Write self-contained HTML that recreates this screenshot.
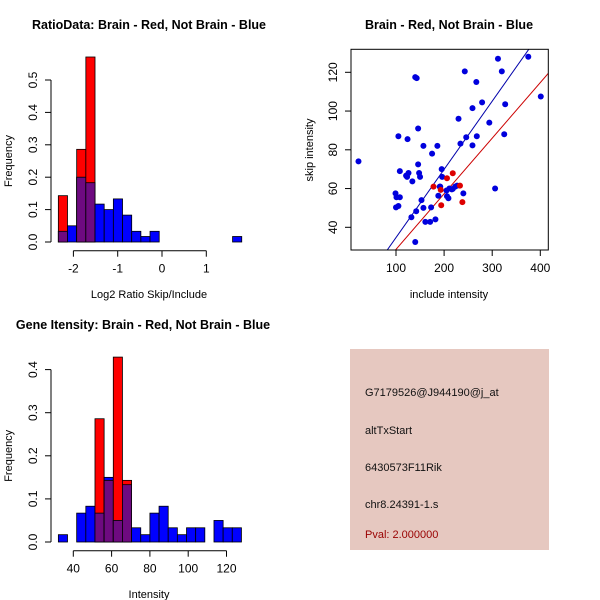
<!DOCTYPE html>
<html><head><meta charset="utf-8"><style>
html,body{margin:0;padding:0;background:#fff;}
svg{display:block;font-family:"Liberation Sans",sans-serif;}
</style></head><body>
<svg id="c" width="600" height="600" viewBox="0 0 600 600">
<rect x="350" y="349" width="199" height="201" fill="#e6c8c0"/>
<text x="365" y="396" font-size="11" fill="#111">G7179526@J944190@j_at</text>
<text x="365" y="434" font-size="11" fill="#111">altTxStart</text>
<text x="365" y="471" font-size="11" fill="#111">6430573F11Rik</text>
<text x="365" y="508" font-size="11" fill="#111">chr8.24391-1.s</text>
<text x="365" y="538" font-size="11" fill="#990000">Pval: 2.000000</text>
</svg>
<script>
// ---- Ratio histogram data ----
const ratioBreakStart = -2.34, ratioBinWidth = 0.207;
const ratioBlue = [0.033,0.05,0.2,0.183,0.117,0.1,0.133,0.083,0.033,0.017,0.033,0,0,0,0,0,0,0,0,0.017];
const ratioRed  = [0.143,0,0.286,0.571,0,0,0,0,0,0,0,0,0,0,0,0,0,0,0,0];
const ratioXTicks = [-2,-1,0,1];
const ratioYTicks = [0,0.1,0.2,0.3,0.4,0.5];
// ---- Intensity histogram data ----
const intBreakStart = 32.2, intBinWidth = 4.78;
const intBlue = [0.017,0,0.067,0.083,0.067,0.15,0.05,0.133,0.033,0.017,0.067,0.083,0.033,0.017,0.033,0.033,0,0.05,0.033,0.033];
const intRed  = [0,0,0,0,0.286,0.143,0.429,0.143,0,0,0,0,0,0,0,0,0,0,0,0];
const intXTicks = [40,60,80,100,120];
const intYTicks = [0,0.1,0.2,0.3,0.4];
// ---- Scatter data ----
const blueX = [22,140,143,243,267,312,320,375,230,279,259,327,294,401,325,146,105,124,157,186,175,246,268,259,234,195,146,108,148,150,126,123,121,134,196,188,192,99,101,108,100,105,153,157,173,142,132,161,171,182,140,205,206,209,211,218,223,227,216,240,306,191];
const blueY = [74,117.5,117,120.5,115,127,120.5,128,96,104.5,101.5,103.5,94,107.5,88,91,87,85.5,82,82,78,86.5,87,82.3,83.2,70,72.5,69,68,66,68,66,66.7,63.7,66,56.3,61,57.5,55.5,55.5,50.3,51,54,50,50.3,48.3,45.2,42.8,42.8,44.1,32.4,59,56,55,60,59.8,61,61.5,59.6,57.5,60,61];
const redX = [178,193,194,206,218,233,238];
const redY = [61,59.3,51.4,65.3,67.9,61.5,53];
const blueFit = [-0.5,0.352];
const redFit = [-0.1,0.287];
const scXTicks = [100,200,300,400];
const scYTicks = [40,60,80,100,120];

const svg = document.getElementById('c');
const NS = 'http://www.w3.org/2000/svg';
function mk(tag, attrs, parent){const e=document.createElementNS(NS,tag);for(const k in attrs)e.setAttribute(k,attrs[k]);(parent||svg).appendChild(e);return e;}
function txt(x,y,s,attrs){const t=mk('text',Object.assign({x:x,y:y},attrs||{}));t.textContent=s;return t;}

function hist(o){
  const g=mk('g',{});
  
  
  const X=v=>o.x0+(v-o.xv0)*o.xs, Y=v=>o.y0-v*o.ys;
  const n=o.blue.length;
  for(let i=0;i<n;i++){
    const a=X(o.start+i*o.w), b=X(o.start+(i+1)*o.w);
    const bl=o.blue[i], rd=o.red[i];
    if(bl>0){const r=mk('rect',{x:a,y:Y(bl),width:b-a,height:Y(0)-Y(bl),fill:'#0000ff',stroke:'#000','stroke-width':0.8},g);
      
      }
    if(rd>0){const r=mk('rect',{x:a,y:Y(rd),width:b-a,height:Y(0)-Y(rd),fill:'#ff0000',stroke:'#000','stroke-width':0.8},g);
      
      }
    const m=Math.min(bl,rd);
    if(m>0){const r=mk('rect',{x:a,y:Y(m),width:b-a,height:Y(0)-Y(m),fill:'#6e0a80',stroke:'#000','stroke-width':0.8},g);
      
      }
  }
  const xt=o.xticks, ay=o.y0+8.7;
  mk('line',{x1:X(xt[0]),x2:X(xt[xt.length-1]),y1:ay,y2:ay,stroke:'#000'},g);
  xt.forEach(v=>{mk('line',{x1:X(v),x2:X(v),y1:ay,y2:ay+6,stroke:'#000'},g);
    const t=txt(X(v),ay+22,String(v),{'font-size':12,'text-anchor':'middle'});
    
    });
  const ax=o.x0a;
  const yt=o.yticks;
  mk('line',{x1:ax,x2:ax,y1:Y(yt[0]),y2:Y(yt[yt.length-1]),stroke:'#000'},g);
  yt.forEach(v=>{mk('line',{x1:ax,x2:ax-6,y1:Y(v),y2:Y(v),stroke:'#000'},g);
    const t=txt(ax-14,Y(v),v.toFixed(1),{'font-size':12,'text-anchor':'middle',transform:`rotate(-90 ${ax-14} ${Y(v)})`});
    
    });
  const t1=txt(o.tx,o.ty,o.title,{'font-size':12.5,'font-weight':'bold','text-anchor':'middle'});
  
  
  const t2=txt(o.xlx,o.xly,o.xlabel,{'font-size':11,'text-anchor':'middle'});
  
  
  const ylc=(Y(yt[0])+Y(yt[yt.length-1]))/2;
  const t3=txt(12,ylc,'Frequency',{'font-size':11,'text-anchor':'middle',transform:`rotate(-90 12 ${ylc})`});
  
  
}

hist({name:'ratio-histogram',blue:ratioBlue,red:ratioRed,start:ratioBreakStart,w:ratioBinWidth,
  x0:162,xv0:0,xs:44.3,y0:242,ys:324,x0a:51,xticks:ratioXTicks,yticks:ratioYTicks,
  title:'RatioData: Brain - Red, Not Brain - Blue',tx:149,ty:29,xlabel:'Log2 Ratio Skip/Include',xlx:149,xly:298});
hist({name:'intensity-histogram',blue:intBlue,red:intRed,start:intBreakStart,w:intBinWidth,
  x0:73.3,xv0:40,xs:1.915,y0:542,ys:431,x0a:51,xticks:intXTicks,yticks:intYTicks,
  title:'Gene Itensity: Brain - Red, Not Brain - Blue',tx:143,ty:329,xlabel:'Intensity',xlx:149,xly:598});

(function(){
  const g=mk('g',{});
  
  
  const L=351,R=548.3,T=49.3,B=250;
  const X=v=>396+(v-100)*0.481, Y=v=>227.3-(v-40)*1.9375;
  const xmin=(L-396)/0.481+100, xmax=(R-396)/0.481+100;
  const clip=mk('clipPath',{id:'sc'},g); mk('rect',{x:L,y:T,width:R-L,height:B-T},clip);
  const pg=mk('g',{'clip-path':'url(#sc)'},g);
  [[blueFit,'#0000aa','blue-fit-line'],[redFit,'#cc0000','red-fit-line']].forEach(([f,c,n])=>{
    const l=mk('line',{x1:X(xmin),y1:Y(f[0]+f[1]*xmin),x2:X(xmax),y2:Y(f[0]+f[1]*xmax),stroke:c,'stroke-width':1},pg);
    
    
  });
  blueX.forEach((v,i)=>{const p=mk('circle',{cx:X(v),cy:Y(blueY[i]),r:3,fill:'#0000dd'},pg);
    
    });
  redX.forEach((v,i)=>{const p=mk('circle',{cx:X(v),cy:Y(redY[i]),r:3,fill:'#dd0000'},pg);
    
    });
  mk('rect',{x:L,y:T,width:R-L,height:B-T,fill:'none',stroke:'#000'},g);
  scXTicks.forEach(v=>{mk('line',{x1:X(v),x2:X(v),y1:B,y2:B+6,stroke:'#000'},g);
    const t=txt(X(v),B+22,String(v),{'font-size':12,'text-anchor':'middle'});
    
    });
  scYTicks.forEach(v=>{mk('line',{x1:L,x2:L-6,y1:Y(v),y2:Y(v),stroke:'#000'},g);
    const t=txt(L-14,Y(v),String(v),{'font-size':12,'text-anchor':'middle',transform:`rotate(-90 ${L-14} ${Y(v)})`});
    
    });
  const t1=txt(449,29,'Brain - Red, Not Brain - Blue',{'font-size':12.5,'font-weight':'bold','text-anchor':'middle'});
  
  
  const t2=txt(449,298,'include intensity',{'font-size':11,'text-anchor':'middle'});
  
  
  const t3=txt(313,150,'skip intensity',{'font-size':11,'text-anchor':'middle',transform:'rotate(-90 313 150)'});
  
  
})();
</script>
</body></html>
